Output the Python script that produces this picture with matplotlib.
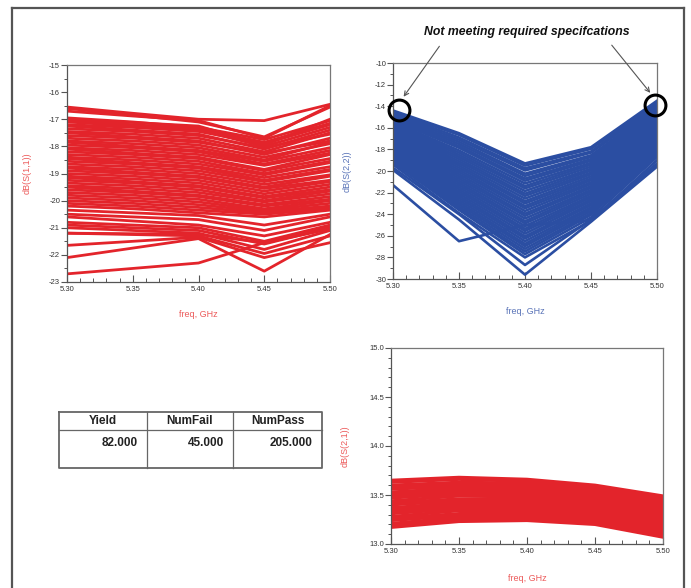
import matplotlib
matplotlib.use('Agg')
from matplotlib import pyplot as plt
from matplotlib.lines import Line2D
from matplotlib.patches import FancyArrowPatch
from matplotlib.ticker import MultipleLocator

plt.rcParams['font.family'] = ['Liberation Sans', 'DejaVu Sans']
plt.rcParams['axes.unicode_minus'] = False

# sweep points, GHz
freq = [5.30, 5.35, 5.40, 5.45, 5.50]

# dB(S(1,1)) monte carlo traces
s11_traces = [
    [-16.55, -16.78, -17.00, -17.05, -16.45],
    [-16.70, -16.88, -17.05, -17.70, -16.50],
    [-16.60, -16.85, -17.10, -17.65, -16.55],
    [-16.95, -17.10, -17.30, -17.75, -17.05],
    [-17.00, -17.12, -17.25, -17.95, -17.00],
    [-17.05, -17.20, -17.35, -17.85, -17.15],
    [-17.10, -17.25, -17.40, -18.00, -17.30],
    [-17.20, -17.30, -17.45, -17.90, -17.20],
    [-17.25, -17.40, -17.55, -18.10, -17.40],
    [-17.35, -17.45, -17.60, -18.05, -17.55],
    [-17.45, -17.55, -17.70, -18.20, -17.50],
    [-17.50, -17.65, -17.80, -18.30, -17.70],
    [-17.60, -17.70, -17.85, -18.25, -17.80],
    [-17.70, -17.80, -17.95, -18.40, -17.90],
    [-17.80, -17.90, -18.05, -18.50, -17.85],
    [-17.85, -18.00, -18.15, -18.55, -18.05],
    [-17.95, -18.05, -18.20, -18.65, -18.15],
    [-18.05, -18.15, -18.30, -18.70, -18.25],
    [-18.10, -18.25, -18.40, -18.85, -18.30],
    [-18.20, -18.30, -18.45, -18.90, -18.45],
    [-18.30, -18.40, -18.55, -19.00, -18.55],
    [-18.40, -18.50, -18.65, -19.05, -18.60],
    [-18.45, -18.60, -18.75, -19.15, -18.75],
    [-18.55, -18.65, -18.80, -19.25, -18.85],
    [-18.65, -18.75, -18.90, -19.30, -18.90],
    [-18.75, -18.85, -19.00, -19.40, -19.05],
    [-18.80, -18.95, -19.10, -19.50, -19.10],
    [-18.90, -19.00, -19.15, -19.55, -19.25],
    [-19.00, -19.10, -19.25, -19.65, -19.30],
    [-19.10, -19.20, -19.35, -19.75, -19.40],
    [-19.15, -19.30, -19.45, -19.85, -19.50],
    [-19.25, -19.35, -19.50, -19.90, -19.60],
    [-19.35, -19.45, -19.60, -20.00, -19.65],
    [-19.45, -19.55, -19.70, -20.05, -19.75],
    [-19.50, -19.65, -19.80, -20.15, -19.85],
    [-19.60, -19.70, -19.85, -20.20, -19.95],
    [-19.70, -19.80, -19.95, -20.30, -20.00],
    [-19.80, -19.90, -20.05, -20.35, -20.10],
    [-19.90, -20.00, -20.15, -20.40, -20.20],
    [-20.00, -20.10, -20.25, -20.45, -20.25],
    [-20.10, -20.20, -20.35, -20.50, -20.30],
    [-20.20, -20.30, -20.45, -20.60, -20.35],
    [-20.35, -20.45, -20.55, -20.90, -20.50],
    [-20.50, -20.60, -20.70, -21.10, -20.60],
    [-20.60, -20.75, -20.90, -21.30, -20.80],
    [-20.80, -20.90, -21.00, -21.50, -20.90],
    [-20.90, -21.00, -21.10, -21.60, -21.00],
    [-21.00, -21.10, -21.20, -21.80, -21.10],
    [-21.20, -21.22, -21.25, -21.55, -20.95],
    [-21.20, -21.25, -21.30, -21.95, -21.30],
    [-21.65, -21.50, -21.35, -22.10, -21.55],
    [-22.10, -21.75, -21.40, -22.60, -21.25],
    [-22.70, -22.50, -22.30, -21.55, -21.05],
]

# dB(S(2,2)) traces
s22_traces = [
    [-14.40, -16.50, -19.30, -17.80, -13.50],
    [-14.55, -16.65, -19.50, -17.95, -13.70],
    [-14.65, -16.90, -19.75, -18.20, -13.80],
    [-14.80, -17.10, -19.95, -18.30, -13.95],
    [-14.95, -17.30, -20.25, -18.55, -14.10],
    [-15.05, -17.50, -20.45, -18.70, -14.25],
    [-15.20, -17.70, -20.70, -18.90, -14.40],
    [-15.30, -17.85, -20.90, -19.05, -14.55],
    [-15.45, -18.10, -21.15, -19.25, -14.65],
    [-15.60, -18.30, -21.40, -19.40, -14.80],
    [-15.70, -18.50, -21.60, -19.60, -14.95],
    [-15.85, -18.70, -21.85, -19.80, -15.10],
    [-15.95, -18.90, -22.10, -19.95, -15.25],
    [-16.10, -19.10, -22.30, -20.15, -15.35],
    [-16.25, -19.30, -22.55, -20.30, -15.50],
    [-16.35, -19.50, -22.80, -20.50, -15.65],
    [-16.50, -19.70, -23.00, -20.70, -15.80],
    [-16.65, -19.90, -23.25, -20.85, -15.95],
    [-16.75, -20.10, -23.45, -21.05, -16.10],
    [-16.90, -20.30, -23.70, -21.20, -16.20],
    [-17.00, -20.50, -23.95, -21.40, -16.35],
    [-17.15, -20.70, -24.15, -21.55, -16.50],
    [-17.30, -20.90, -24.40, -21.75, -16.65],
    [-17.40, -21.10, -24.65, -21.90, -16.80],
    [-17.55, -21.30, -24.85, -22.10, -16.95],
    [-17.70, -21.50, -25.10, -22.30, -17.05],
    [-17.80, -21.70, -25.35, -22.45, -17.20],
    [-17.95, -21.90, -25.55, -22.65, -17.35],
    [-18.05, -22.10, -25.80, -22.80, -17.50],
    [-18.20, -22.30, -26.05, -23.00, -17.65],
    [-18.35, -22.50, -26.25, -23.15, -17.80],
    [-18.45, -22.70, -26.50, -23.35, -17.90],
    [-18.60, -22.90, -26.75, -23.50, -18.05],
    [-18.70, -23.10, -26.95, -23.70, -18.20],
    [-18.85, -23.30, -27.20, -23.90, -18.35],
    [-19.00, -23.50, -27.45, -24.05, -18.50],
    [-19.20, -23.60, -27.70, -24.30, -18.70],
    [-19.40, -23.90, -28.00, -24.60, -19.00],
    [-19.70, -24.00, -28.70, -24.50, -19.30],
    [-19.90, -24.50, -29.60, -24.70, -19.60],
    [-21.30, -26.50, -25.00, -24.60, -19.50],
]

# dB(S(2,1)) traces
s21_traces = [
    [13.65, 13.68, 13.66, 13.60, 13.49],
    [13.63, 13.66, 13.64, 13.58, 13.47],
    [13.60, 13.63, 13.62, 13.56, 13.45],
    [13.58, 13.61, 13.60, 13.54, 13.43],
    [13.56, 13.59, 13.58, 13.52, 13.41],
    [13.53, 13.57, 13.56, 13.50, 13.39],
    [13.51, 13.55, 13.54, 13.49, 13.37],
    [13.49, 13.53, 13.52, 13.47, 13.35],
    [13.47, 13.51, 13.50, 13.45, 13.33],
    [13.44, 13.49, 13.48, 13.43, 13.31],
    [13.42, 13.46, 13.46, 13.41, 13.29],
    [13.40, 13.44, 13.44, 13.39, 13.27],
    [13.37, 13.42, 13.42, 13.37, 13.25],
    [13.35, 13.40, 13.40, 13.35, 13.23],
    [13.33, 13.38, 13.38, 13.34, 13.21],
    [13.31, 13.36, 13.36, 13.32, 13.19],
    [13.28, 13.34, 13.34, 13.30, 13.17],
    [13.26, 13.31, 13.32, 13.28, 13.15],
    [13.24, 13.29, 13.30, 13.26, 13.13],
    [13.21, 13.27, 13.28, 13.24, 13.11],
    [13.19, 13.25, 13.26, 13.22, 13.09],
    [13.17, 13.23, 13.24, 13.20, 13.07],
]

table_cols = ['Yield', 'NumFail', 'NumPass']
table_vals = [82.0, 45.0, 205.0]

RED = '#e3242b'
BLUE = '#2b4ea2'
RED_LBL = '#ec5a5a'
BLUE_LBL = '#5a74b8'
W, H = 691, 588

fig = plt.figure(figsize=(W / 100, H / 100), dpi=100)


def make_axes(left, top, right, bottom):
    return fig.add_axes([left / W, 1 - bottom / H, (right - left) / W, (bottom - top) / H])


def style(ax, ylim, ymaj, ymin, ylabel, lblcolor, lblx):
    ax.set_xlim(5.30, 5.50)
    ax.set_ylim(*ylim)
    ax.xaxis.set_major_locator(MultipleLocator(0.05))
    ax.xaxis.set_minor_locator(MultipleLocator(0.01))
    ax.yaxis.set_major_locator(MultipleLocator(ymaj))
    ax.yaxis.set_minor_locator(MultipleLocator(ymin))
    ax.xaxis.set_major_formatter(plt.FormatStrFormatter('%.2f'))
    ax.tick_params(axis='x', which='major', direction='in', length=5, width=0.8,
                   color='#555555', labelsize=5.5, labelcolor='#333333', pad=3)
    ax.tick_params(axis='x', which='minor', direction='in', length=3, width=0.7, color='#555555')
    ax.tick_params(axis='y', which='major', direction='out', length=4, width=0.8,
                   color='#555555', labelsize=5.5, labelcolor='#333333', pad=1)
    ax.tick_params(axis='y', which='minor', direction='out', length=2, width=0.7, color='#555555')
    for s in ax.spines.values():
        s.set_color('#777777')
        s.set_linewidth(0.9)
    ax.spines['left'].set_color('#555555')
    ax.spines['bottom'].set_color('#555555')
    ax.set_ylabel(ylabel, color=lblcolor, fontsize=6.5)
    ax.set_xlabel('freq, GHz', color=lblcolor, fontsize=6.5)
    ax.yaxis.set_label_coords(lblx, 0.5)
    ax.xaxis.set_label_coords(0.5, -0.13)


# S11
ax1 = make_axes(67, 65, 330, 282)
for tr in s11_traces:
    ax1.plot(freq, tr, color=RED, lw=2.0, solid_joinstyle='round')
style(ax1, (-23, -15), 1, 0.5, 'dB(S(1,1))', RED_LBL, -35 / 263)

# S22
ax2 = make_axes(393, 63, 657, 279)
for tr in s22_traces:
    ax2.plot(freq, tr, color=BLUE, lw=1.9, solid_joinstyle='round')
style(ax2, (-30, -10), 2, 1, 'dB(S(2,2))', BLUE_LBL, -41 / 264)

# S21
ax3 = make_axes(391, 348, 663, 544)
for tr in s21_traces:
    ax3.plot(freq, tr, color=RED, lw=2.3, solid_joinstyle='round')
style(ax3, (13.0, 15.0), 0.5, 0.1, 'dB(S(2,1))', RED_LBL, -41 / 272)
ax3.yaxis.set_major_formatter(plt.FormatStrFormatter('%.1f'))
ax3.xaxis.set_label_coords(0.5, -0.155)

# spec markers on S22
ax2.plot([5.3045], [-14.35], 'o', ms=15, mfc='none', mec='black', mew=2.2, clip_on=False, zorder=5)
ax2.plot([5.4985], [-13.9], 'o', ms=15, mfc='none', mec='black', mew=2.2, clip_on=False, zorder=5)
fig.text(527 / W, 1 - 32 / H, 'Not meeting required specifcations', ha='center', va='center',
         fontsize=8.8, weight='bold', style='italic', color='#111111')
arrow = dict(arrowstyle='->', color='#555555', lw=0.8, mutation_scale=8)
fig.add_artist(FancyArrowPatch((441 / W, 1 - 44 / H), (402 / W, 1 - 99 / H),
                               transform=fig.transFigure, **arrow))
fig.add_artist(FancyArrowPatch((610 / W, 1 - 43 / H), (652 / W, 1 - 95 / H),
                               transform=fig.transFigure, **arrow))

# results table
axt = fig.add_axes([0, 0, 1, 1], facecolor='none')
axt.set_xlim(0, W)
axt.set_ylim(H, 0)
axt.axis('off')
tx = [59, 147, 233, 322]
axt.plot([tx[0], tx[3], tx[3], tx[0], tx[0]], [412, 412, 468, 468, 412], color='#666666', lw=1.3)
axt.plot([tx[0], tx[3]], [430, 430], color='#666666', lw=0.9)
for x in tx[1:3]:
    axt.plot([x, x], [412, 468], color='#666666', lw=0.9)
for i in range(3):
    axt.text((tx[i] + tx[i + 1]) / 2, 421.5, table_cols[i], ha='center', va='center',
             fontsize=8.5, weight='bold', color='#222222')
    axt.text(tx[i + 1] - 9, 443, '%.3f' % table_vals[i], ha='right', va='center',
             fontsize=8.5, weight='bold', color='#222222')

# outer frame
for xs, ys in [([12, 12], [H, 8]), ([12, 684], [8, 8]), ([684, 684], [8, H])]:
    fig.add_artist(Line2D([x / W for x in xs], [1 - y / H for y in ys],
                          transform=fig.transFigure, color='#555555', lw=1.6))

fig.savefig('out.png', dpi=100)
